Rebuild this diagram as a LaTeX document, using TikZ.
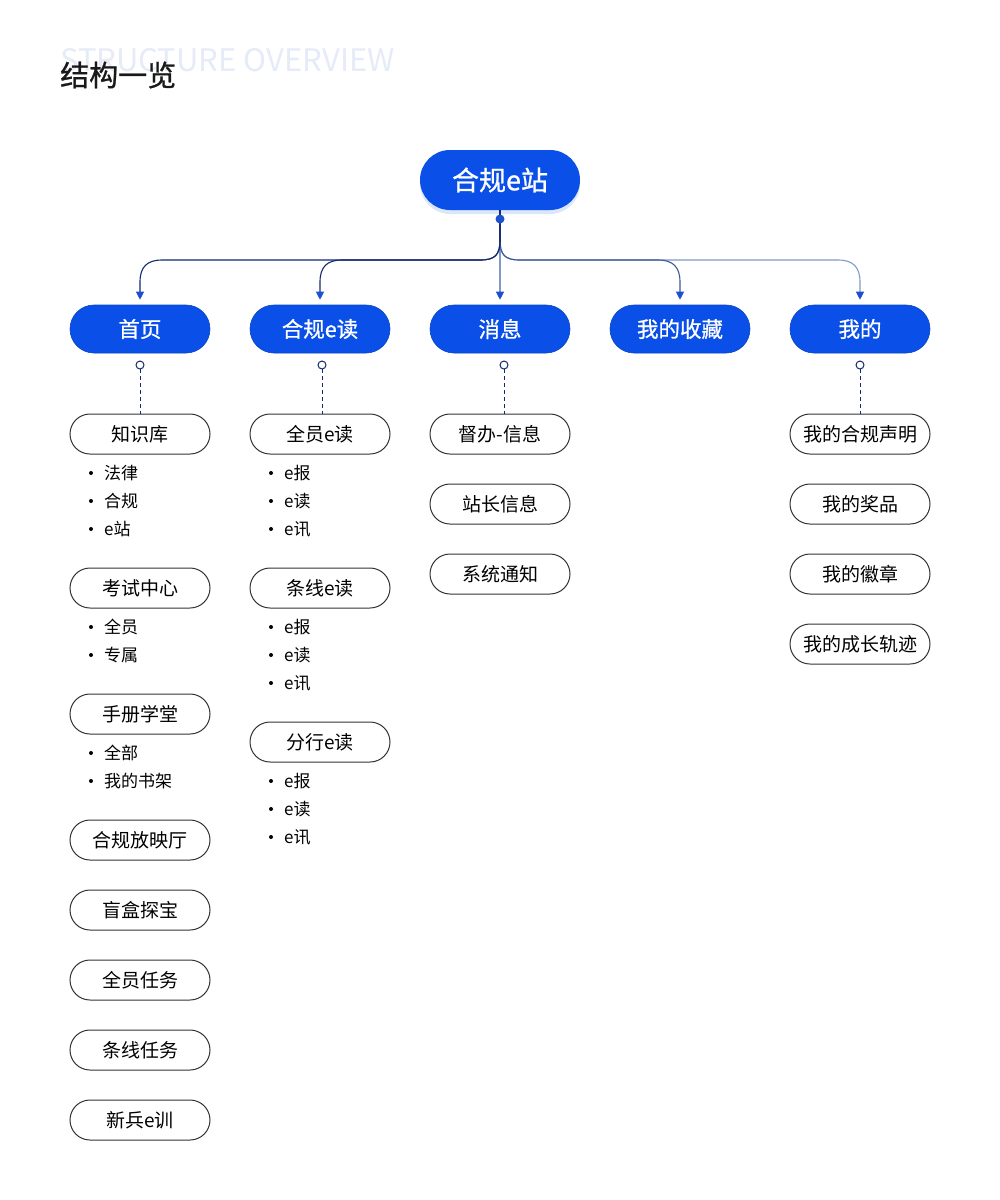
\documentclass[tikz,border=0pt]{standalone}
\usepackage{fontspec}
\setmainfont{Noto Sans CJK SC}
\newfontfamily\medfont{Noto Sans CJK SC}[FakeBold=0.9]
\usetikzlibrary{arrows.meta,shadows}
\definecolor{mainblue}{HTML}{0A50E8}
\definecolor{navy}{HTML}{13286E}
\definecolor{midnavy}{HTML}{3D5896}
\definecolor{lightnavy}{HTML}{8299C6}
\definecolor{tipblue}{HTML}{1D4FCF}
\definecolor{leafgray}{HTML}{333333}
\definecolor{ghost}{HTML}{E5EBF8}
\begin{document}
\begin{tikzpicture}[x=1pt,y=-1pt,
  rootbox/.style={fill=mainblue, rounded corners=30pt, minimum width=160pt, minimum height=60pt, text=white, font=\medfont\fontsize{27}{27}\selectfont, inner sep=0pt, drop shadow={shadow xshift=0pt, shadow yshift=-4pt, fill=mainblue!40, opacity=0.35}},
  lvlbox/.style={fill=mainblue, draw=mainblue!85!black, line width=0.6pt, rounded corners=24pt, minimum width=140pt, minimum height=48pt, text=white, font=\medfont\fontsize{21.5}{21.5}\selectfont, inner sep=0pt},
  leafbox/.style={draw=leafgray, line width=1pt, fill=white, rounded corners=20pt, minimum width=140pt, minimum height=40pt, font=\fontsize{19}{19}\selectfont, inner sep=0pt},
  itemtxt/.style={anchor=west, font=\fontsize{17}{17}\selectfont, inner sep=0pt},
  conn/.style={line width=1.1pt, -{Triangle[width=8pt,length=8pt,fill=tipblue,color=tipblue]}, shorten >=5pt},
  dashconn/.style={navy, line width=1pt, dash pattern=on 4pt off 3pt, shorten <=4pt},
  hollowdot/.style={draw=navy, fill=white, line width=1pt},
  bulletdot/.style={fill=black}
]
\useasboundingbox[fill=white] (0,0) rectangle (1000,1200);

% title
\node[anchor=west, inner sep=0pt, text=ghost, font=\fontsize{31}{31}\selectfont] (ghosttitle) at (60,60) {STRUCTURE OVERVIEW};
\node[anchor=west, inner sep=0pt, text=black!90, font=\medfont\fontsize{29}{29}\selectfont] (title) at (60,75) {结构一览};

% root
\node[rootbox] (root) at (500,180) {合规e站};
\coordinate (rdot) at (500,219);

% level 1
\node[lvlbox] (h1) at (140,329) {首页};
\node[lvlbox] (h2) at (320,329) {合规e读};
\node[lvlbox] (h3) at (500,329) {消息};
\node[lvlbox] (h4) at (680,329) {我的收藏};
\node[lvlbox] (h5) at (860,329) {我的};

% connectors root -> level 1
\draw[conn, lightnavy] (rdot) -- (h3.north);
\draw[conn, lightnavy] (rdot) -- (500,240) .. controls (500,255) and (505,260) .. (520,260) -- (838,260) .. controls (853,260) and (860,267) .. (860,282) -- (h5.north);
\draw[conn, midnavy] (rdot) -- (500,240) .. controls (500,255) and (505,260) .. (520,260) -- (658,260) .. controls (673,260) and (680,267) .. (680,282) -- (h4.north);
\draw[conn, navy] (rdot) -- (500,240) .. controls (500,255) and (495,260) .. (480,260) -- (162,260) .. controls (147,260) and (140,267) .. (140,282) -- (h1.north);
\draw[conn, navy] (rdot) -- (500,240) .. controls (500,255) and (495,260) .. (480,260) -- (342,260) .. controls (327,260) and (320,267) .. (320,282) -- (h2.north);
\draw[navy, line width=1.1pt] (root.south) -- (rdot);
\fill[tipblue] (rdot) circle (4.5);

% column 1
\node[leafbox] (a1) at (140,434) {知识库};
\node[leafbox] (a2) at (140,588) {考试中心};
\node[leafbox] (a3) at (140,714) {手册学堂};
\node[leafbox] (a4) at (140,840) {合规放映厅};
\node[leafbox] (a5) at (140,910) {盲盒探宝};
\node[leafbox] (a6) at (140,980) {全员任务};
\node[leafbox] (a7) at (140,1050) {条线任务};
\node[leafbox] (a8) at (140,1120) {新兵e训};
\coordinate (c1) at (140,365);
\draw[dashconn] (c1) -- (a1.north);
\draw[hollowdot] (c1) circle (4);

\foreach \y/\t/\n in {473/法律/ia1, 501/合规/ia2, 529/e站/ia3, 627/全员/ia4, 655/专属/ia5, 753/全部/ia6, 781/我的书架/ia7}{
  \fill[bulletdot] (91,\y) circle (2);
  \node[itemtxt] (\n) at (104,\y) {\t};
}

% column 2
\node[leafbox] (b1) at (320,434) {全员e读};
\node[leafbox] (b2) at (320,588) {条线e读};
\node[leafbox] (b3) at (320,742) {分行e读};
\coordinate (c2) at (322,365);
\draw[dashconn] (c2) -- (b1.north -| c2);
\draw[hollowdot] (c2) circle (4);

\foreach \y/\t/\n in {473/e报/ib1, 501/e读/ib2, 529/e讯/ib3, 627/e报/ib4, 655/e读/ib5, 683/e讯/ib6, 781/e报/ib7, 809/e读/ib8, 837/e讯/ib9}{
  \fill[bulletdot] (271,\y) circle (2);
  \node[itemtxt] (\n) at (284,\y) {\t};
}

% column 3
\node[leafbox] (m1) at (500,434) {督办-信息};
\node[leafbox] (m2) at (500,504) {站长信息};
\node[leafbox] (m3) at (500,574) {系统通知};
\coordinate (c3) at (504,365);
\draw[dashconn] (c3) -- (m1.north -| c3);
\draw[hollowdot] (c3) circle (4);

% column 5
\node[leafbox] (w1) at (860,434) {我的合规声明};
\node[leafbox] (w2) at (860,504) {我的奖品};
\node[leafbox] (w3) at (860,574) {我的徽章};
\node[leafbox] (w4) at (860,644) {我的成长轨迹};
\coordinate (c5) at (860,365);
\draw[dashconn] (c5) -- (w1.north);
\draw[hollowdot] (c5) circle (4);
\end{tikzpicture}
\end{document}
